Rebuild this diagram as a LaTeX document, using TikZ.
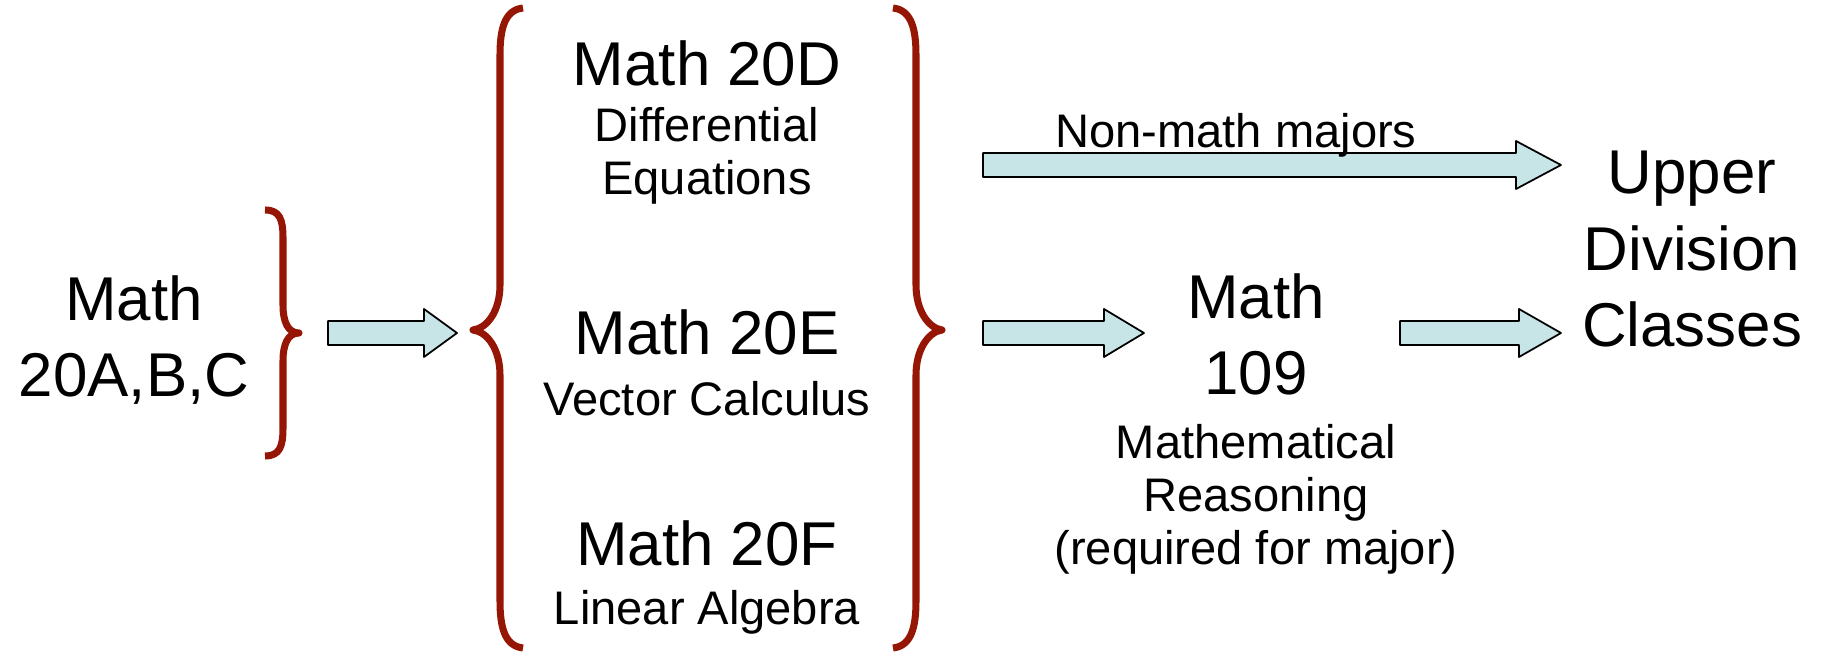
\documentclass[tikz,border=0pt]{standalone}
\usepackage{fontspec}
\setmainfont{Liberation Sans}
\usetikzlibrary{calc}

\definecolor{bracered}{RGB}{150,22,5}
\definecolor{arrowfill}{RGB}{199,228,231}

% fat block arrow between two named coordinates (same height)
\newcommand{\fatarrow}[3][0.4cm]{%
  \draw[fat] let \p1=(#2), \p2=(#3) in
    (\x1,\y1+0.12cm) -- (\x2-#1,\y1+0.12cm) -- (\x2-#1,\y1+0.24cm) -- (\x2,\y1)
    -- (\x2-#1,\y1-0.24cm) -- (\x2-#1,\y1-0.12cm) -- (\x1,\y1-0.12cm) -- cycle;}

\begin{document}
\begin{tikzpicture}[
    line join=round,
    brace/.style={line width=2pt,bracered},
    fat/.style={draw=black,line width=0.5pt,fill=arrowfill},
    course/.style={
        font=\fontsize{17.6}{21.9}\selectfont,
        align=center,
        anchor=base,
        inner sep=0pt
    },
    title/.style={
        font=\fontsize{13.4}{15.2}\selectfont,
        align=center,
        anchor=base,
        inner sep=0pt
    }
]
\useasboundingbox (0,0) rectangle (18.26,-6.53);

% multi-line nodes sit on the baseline of their last line
\node[course] (calc) at (1.34,-3.97) {Math\\20A,B,C};

\node[course] (d) at (7.07,-0.86) {Math 20D};
\node[title] (dtxt) at (7.07,-1.95) {Differential\\Equations};
\node[course] (e) at (7.07,-3.55) {Math 20E};
\node[title] (etxt) at (7.07,-4.16) {Vector Calculus};
\node[course] (f) at (7.07,-5.66) {Math 20F};
\node[title] (ftxt) at (7.07,-6.25) {Linear Algebra};

\node[course] (m109) at (12.56,-3.95) {Math\\109};
\node[title] (m109txt) at (12.56,-5.65) {Mathematical\\Reasoning\\(required for major)};

\node[course] (upper) at (16.92,-3.47) {Upper\\Division\\Classes};

% braces
\draw[brace] (2.65,-2.10) .. controls (2.80,-2.10) and (2.83,-2.20) .. (2.83,-2.38)
    -- (2.83,-3.05) .. controls (2.83,-3.22) and (2.88,-3.33) .. (2.99,-3.33)
    .. controls (2.88,-3.33) and (2.83,-3.44) .. (2.83,-3.61)
    -- (2.83,-4.28) .. controls (2.83,-4.46) and (2.80,-4.56) .. (2.65,-4.56);
\draw[brace] (5.23,-0.08) .. controls (5.05,-0.10) and (5.00,-0.28) .. (5.00,-0.55)
    -- (5.00,-2.85) .. controls (5.00,-3.10) and (4.88,-3.28) .. (4.73,-3.30)
    .. controls (4.88,-3.32) and (5.00,-3.50) .. (5.00,-3.75)
    -- (5.00,-6.01) .. controls (5.00,-6.28) and (5.05,-6.46) .. (5.23,-6.48);
\draw[brace] (8.93,-0.08) .. controls (9.11,-0.10) and (9.16,-0.28) .. (9.16,-0.55)
    -- (9.16,-2.85) .. controls (9.16,-3.10) and (9.28,-3.28) .. (9.42,-3.30)
    .. controls (9.28,-3.32) and (9.16,-3.50) .. (9.16,-3.75)
    -- (9.16,-6.01) .. controls (9.16,-6.28) and (9.11,-6.46) .. (8.93,-6.48);

% arrows
\coordinate (a1s) at (3.28,-3.33);
\coordinate (a1e) at (4.57,-3.33);
\coordinate (tops) at (9.83,-1.65);
\coordinate (tope) at (15.61,-1.65);
\coordinate (a3s) at (9.83,-3.33);
\coordinate (a3e) at (11.44,-3.33);
\coordinate (a4s) at (14.00,-3.33);
\coordinate (a4e) at (15.61,-3.33);

\fatarrow[0.33cm]{a1s}{a1e}
\fatarrow[0.45cm]{tops}{tope}
\fatarrow{a3s}{a3e}
\fatarrow[0.42cm]{a4s}{a4e}

\node[title] (nonmath) at (12.36,-1.48) {Non-math majors};

\end{tikzpicture}
\end{document}
